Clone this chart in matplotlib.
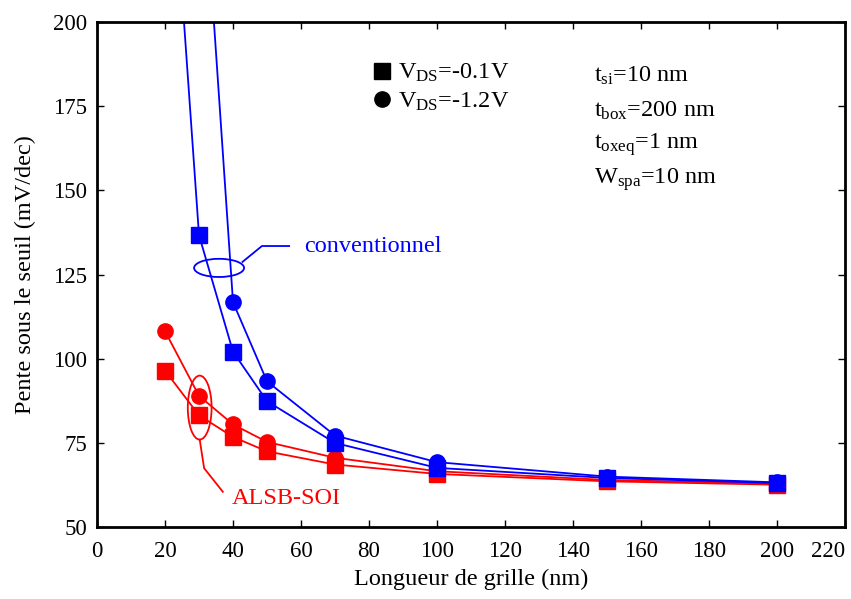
import numpy as np
import matplotlib.pyplot as plt
from matplotlib.lines import Line2D
from matplotlib.patches import Ellipse

plt.rcParams['font.family'] = 'Liberation Serif'
plt.rcParams['mathtext.fontset'] = 'custom'
plt.rcParams['mathtext.rm'] = 'Liberation Serif'
plt.rcParams['mathtext.it'] = 'Liberation Serif:italic'

# ==============================
# 数据
# ==============================
L_conv_sq = [20, 30, 40, 50, 70, 100, 150, 200]
S_conv_sq = [280, 136.7, 102.1, 87.4, 75.0, 67.6, 64.6, 63.1]
L_conv_ci = [30, 40, 50, 70, 100, 150, 200]
S_conv_ci = [265, 116.8, 93.3, 77.2, 69.3, 65.0, 63.3]

L_alsb = [20, 30, 40, 50, 70, 100, 150, 200]
S_alsb_sq = [96.5, 83.2, 76.8, 72.5, 68.6, 65.8, 63.6, 62.6]
S_alsb_ci = [108.2, 89.0, 80.5, 75.3, 70.6, 66.6, 64.0, 62.9]

params = [r't$_{\rm si}$=10 nm', r't$_{\rm box}$=200 nm',
          r't$_{\rm oxeq}$=1 nm', r'W$_{\rm spa}$=10 nm']

fig = plt.figure(figsize=(8.51, 5.99), dpi=100)
ax = fig.add_axes([0.114, 0.120, 0.879, 0.843])

ms = 11
ax.plot(L_alsb, S_alsb_ci, '-o', color='red', ms=ms, lw=1.3)
ax.plot(L_alsb, S_alsb_sq, '-s', color='red', ms=ms, lw=1.3)
ax.plot(L_conv_ci, S_conv_ci, '-o', color='blue', ms=ms, lw=1.3)
ax.plot(L_conv_sq, S_conv_sq, '-s', color='blue', ms=ms, lw=1.3)

ax.set_xlim(0, 220)
ax.set_ylim(50, 200)
ax.set_xticks(np.arange(0, 221, 20))
ax.set_yticks(np.arange(50, 201, 25))
ax.tick_params(direction='in', top=True, right=True, length=5, width=1,
               labelsize=16.5)
ax.tick_params(axis='x', pad=10)
ax.tick_params(axis='y', pad=7)
for s in ax.spines.values():
    s.set_linewidth(2)
# 最后一个刻度标签靠右，避免被裁掉
ax.get_xticklabels()[-1].set_horizontalalignment('right')

ax.set_xlabel('Longueur de grille (nm)', fontsize=17.5, labelpad=5)
ax.set_ylabel('Pente sous le seuil (mV/dec)', fontsize=17.5, labelpad=12)

# ellipses + annotations
ax.add_patch(Ellipse((35.9, 127), 14.7, 5.4, fill=False, ec='blue', lw=1.3))
ax.plot([42.8, 48.5, 56.5], [128.8, 133.5, 133.5], color='blue', lw=1.3)
ax.text(61, 133.5, 'conventionnel', color='blue', fontsize=17.5, va='center')

ax.add_patch(Ellipse((30.2, 85.5), 7.0, 19, fill=False, ec='red', lw=1.3))
ax.plot([30.2, 31.5, 37], [76, 67.5, 60.5], color='red', lw=1.3)
ax.text(39.5, 58.5, 'ALSB-SOI', color='red', fontsize=17.5, va='center')

# legend
handles = [Line2D([], [], marker='s', color='k', ls='none', ms=11),
           Line2D([], [], marker='o', color='k', ls='none', ms=11)]
labels = [r'V$_{\rm DS}$=-0.1V', r'V$_{\rm DS}$=-1.2V']
ax.legend(handles, labels, loc='upper left', bbox_to_anchor=(0.347, 0.945),
          frameon=False, fontsize=17.5, handletextpad=0.1, borderpad=0,
          labelspacing=0.25, handlelength=1.1)

for i, p in enumerate(params):
    ax.text(0.665, 0.893 - i * 0.068, p, transform=ax.transAxes,
            fontsize=17.5, va='center')

fig.savefig('out.png', dpi=100)
